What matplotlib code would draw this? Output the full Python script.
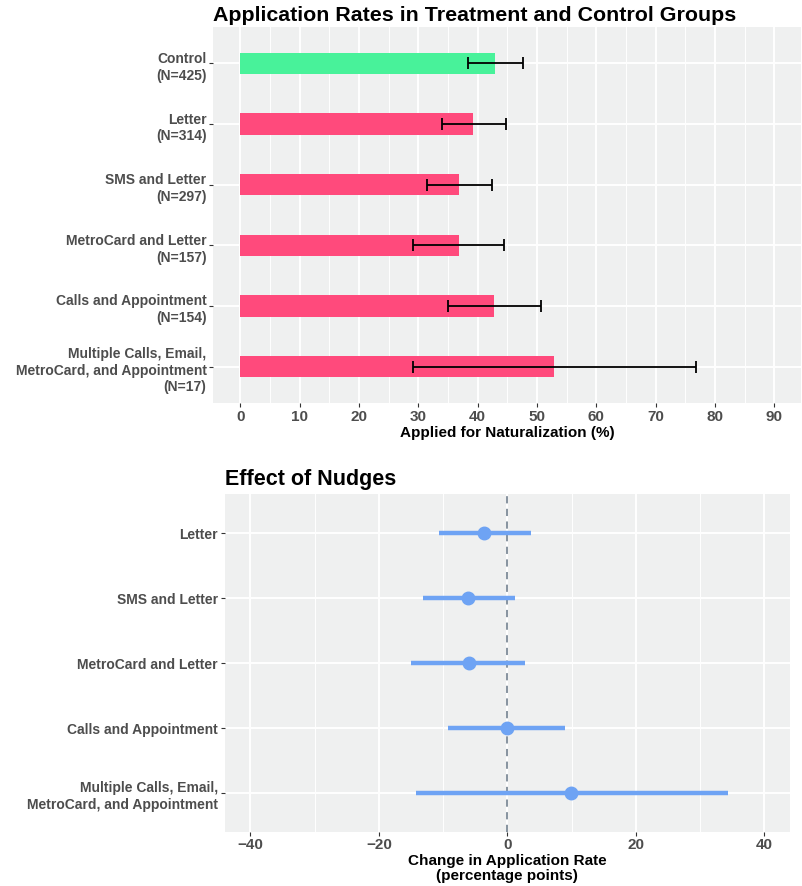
import numpy as np
import matplotlib
matplotlib.use('Agg')
from matplotlib import pyplot as plt

plt.rcParams['font.family'] = ['Liberation Sans', 'DejaVu Sans']

# Top panel data: application rates (%) with 95% CI
groups = ['Control\n(N=425)', 'Letter\n(N=314)', 'SMS and Letter\n(N=297)',
          'MetroCard and Letter\n(N=157)', 'Calls and Appointment\n(N=154)',
          'Multiple Calls, Email,\nMetroCard, and Appointment\n(N=17)']
rate = [43.0, 39.3, 36.9, 36.8, 42.8, 52.9]
rate_lo = [38.3, 34.0, 31.4, 29.2, 35.0, 29.1]
rate_hi = [47.6, 44.8, 42.5, 44.4, 50.7, 76.8]

# Bottom panel data: effect vs control (percentage points)
nudges = ['Letter', 'SMS and Letter', 'MetroCard and Letter',
          'Calls and Appointment', 'Multiple Calls, Email,\nMetroCard, and Appointment']
effect = [-3.6, -6.1, -6.0, -0.1, 9.9]
effect_lo = [-10.7, -13.2, -15.0, -9.3, -14.3]
effect_hi = [3.7, 1.2, 2.8, 9.0, 34.3]

panel_bg = '#EFF0F0'
tick_col = '#4D4D4D'
green = '#48F29A'
pink = '#FF4A7C'
blue = '#6EA3F4'


def style_axes(ax):
    ax.set_facecolor(panel_bg)
    for s in ax.spines.values():
        s.set_visible(False)
    ax.grid(which='major', color='white', lw=1.4)
    ax.grid(which='minor', color='white', lw=0.7)
    ax.set_axisbelow(True)
    ax.tick_params(which='major', length=3, width=0.8, color='#333333',
                   labelcolor=tick_col, labelsize=10, pad=2)
    ax.tick_params(axis='x', which='major', labelsize=11, pad=1)
    ax.tick_params(which='minor', length=0)
    for lab in ax.get_xticklabels() + ax.get_yticklabels():
        lab.set_fontweight('bold')


fig = plt.figure(figsize=(8.02, 8.87), dpi=100)

# ---- top panel
ax1 = fig.add_axes([0.2662, 0.5445, 0.7326, 0.4239])
pos = np.arange(len(groups))[::-1]
colors = [green] + [pink] * (len(groups) - 1)
ax1.barh(pos, rate, height=0.35, color=colors, zorder=2)
r = np.array(rate)
ax1.errorbar(r, pos, xerr=[r - np.array(rate_lo), np.array(rate_hi) - r],
             fmt='none', ecolor='black', elinewidth=1.3, capsize=4.5,
             capthick=1.3, zorder=3)
ax1.set_xlim(-4.5, 94.5)
ax1.set_ylim(-0.6, len(groups) - 0.4)
ax1.set_xticks(np.arange(0, 91, 10))
ax1.set_xticks(np.arange(5, 95, 10), minor=True)
ax1.set_yticks(pos)
ax1.set_yticklabels(groups, linespacing=1.25)
style_axes(ax1)
ax1.set_xlabel('Applied for Naturalization (%)', fontsize=11,
               fontweight='bold', labelpad=2)
ax1.set_title('Application Rates in Treatment and Control Groups',
              loc='left', fontsize=15.4, fontweight='bold', pad=5)

# ---- bottom panel
ax2 = fig.add_axes([0.2802, 0.0612, 0.7049, 0.3811])
pos2 = np.arange(len(nudges))[::-1]
ax2.axvline(0, color='#7D8A97', lw=1.3, ls=(0, (4, 3)), zorder=2)
ax2.hlines(pos2, effect_lo, effect_hi, color=blue, lw=3.2, zorder=3)
ax2.plot(effect, pos2, 'o', color=blue, ms=9, zorder=4)
ax2.set_xlim(-44, 44)
ax2.set_ylim(-0.6, len(nudges) - 0.4)
ax2.set_xticks([-40, -20, 0, 20, 40])
ax2.set_xticklabels(['\u221240', '\u221220', '0', '20', '40'])
ax2.set_xticks([-30, -10, 10, 30], minor=True)
ax2.set_yticks(pos2)
ax2.set_yticklabels(nudges, linespacing=1.25)
style_axes(ax2)
ax2.set_xlabel('Change in Application Rate\n(percentage points)', fontsize=11,
               fontweight='bold', labelpad=1, linespacing=1.15)
ax2.set_title('Effect of Nudges', loc='left', fontsize=15.5,
              fontweight='bold', pad=7)

fig.savefig('out.png', dpi=100)
